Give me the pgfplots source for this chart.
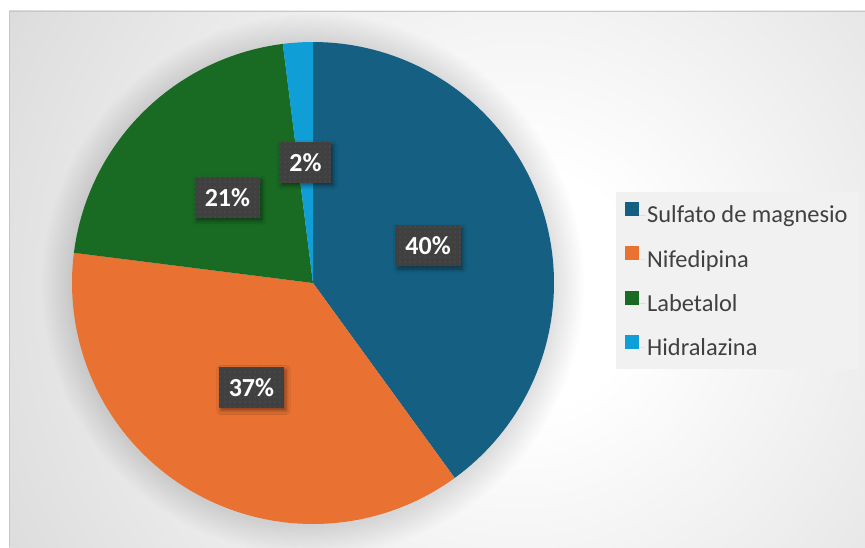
\documentclass[border=0pt]{standalone}
\usepackage{pgfplots}
\pgfplotsset{compat=1.18}
\usepackage{pgfplotstable}
\usepackage{fontspec}
\setmainfont{Carlito}
\usetikzlibrary{shadows.blur,patterns.meta}

\definecolor{cSul}{HTML}{156082}
\definecolor{cNif}{HTML}{E97132}
\definecolor{cLab}{HTML}{196B24}
\definecolor{cHid}{HTML}{0F9ED5}
\definecolor{boxgray}{HTML}{404040}
\definecolor{dotgray}{HTML}{5A5A5A}
\definecolor{txtgray}{HTML}{404040}
\definecolor{legbg}{HTML}{F1F1F1}

\pgfdeclareradialshading{chartbg}{\pgfpoint{0bp}{0bp}}{color(0bp)=(white); color(3bp)=(white); color(14bp)=(black!13); color(17.25bp)=(black!19); color(22bp)=(black!23); color(72bp)=(black!24)}

% porcentaje por medicamento
\pgfplotstableread{
label value
Sulfato 40
Nifedipina 37
Labetalol 21
Hidralazina 2
}\piedata

\begin{document}
\begin{tikzpicture}
\pgfplotstablegetelem{0}{value}\of\piedata\edef\vA{\pgfplotsretval}
\pgfplotstablegetelem{1}{value}\of\piedata\edef\vB{\pgfplotsretval}
\pgfplotstablegetelem{2}{value}\of\piedata\edef\vC{\pgfplotsretval}
\pgfplotstablegetelem{3}{value}\of\piedata\edef\vD{\pgfplotsretval}
\pgfmathsetmacro\aA{0}
\pgfmathsetmacro\aB{\aA+3.6*\vA}
\pgfmathsetmacro\aC{\aB+3.6*\vB}
\pgfmathsetmacro\aD{\aC+3.6*\vC}
\pgfmathsetmacro\aE{\aD+3.6*\vD}
\def\cx{313}\def\cy{283}\def\R{241}\def\rl{121}
\pgfmathsetmacro\lAx{\cx+\rl*sin((\aA+\aB)/2)}\pgfmathsetmacro\lAy{\cy-\rl*cos((\aA+\aB)/2)}
\pgfmathsetmacro\lBx{\cx+\rl*sin((\aB+\aC)/2)}\pgfmathsetmacro\lBy{\cy-\rl*cos((\aB+\aC)/2)}
\pgfmathsetmacro\lCx{\cx+\rl*sin((\aC+\aD)/2)}\pgfmathsetmacro\lCy{\cy-\rl*cos((\aC+\aD)/2)}
\pgfmathsetmacro\lDx{\cx+\rl*sin((\aD+\aE)/2)}\pgfmathsetmacro\lDy{\cy-\rl*cos((\aD+\aE)/2)}
% fondo del grafico
\begin{scope}
\clip (9pt,0pt) rectangle (866pt,536pt);
\shade[shading=chartbg] (-480pt,-743pt) rectangle (1520pt,1257pt);
\end{scope}
\draw[black!22, line width=0.8pt] (9pt,0pt) -- (9pt,536pt) -- (866pt,536pt);
% sombra suave del circulo
\foreach \i in {2,4,...,30} {\fill[black, opacity=0.007] (313pt,262pt) circle (241pt+\i pt);}
\begin{axis}[
    at={(0pt,0pt)}, anchor=south west,
    width=865pt, height=547pt, scale only axis,
    xmin=0, xmax=865, ymin=0, ymax=547,
    y dir=reverse,
    hide axis, clip=false,
    legend image code/.code={\fill[#1] (0pt,-1pt) rectangle (14pt,13pt); \path (0pt,0pt) -- (20pt,0pt);},
    legend style={at={(0.7121,0.649)}, anchor=north west,
        fill=legbg, draw=none,
        font=\fontsize{24.4}{28}\selectfont, text=txtgray,
        row sep=20pt, inner xsep=9pt, inner ysep=10pt},
    legend cell align=left,
]
\addplot[fill=cSul, draw=none, domain=\aA:\aB, samples=90] ({\cx+\R*sin(x)},{\cy-\R*cos(x)}) -- (axis cs:\cx,\cy) -- cycle;
\addlegendentry{Sulfato de magnesio}
\addplot[fill=cNif, draw=none, domain=\aB:\aC, samples=90] ({\cx+\R*sin(x)},{\cy-\R*cos(x)}) -- (axis cs:\cx,\cy) -- cycle;
\addlegendentry{Nifedipina}
\addplot[fill=cLab, draw=none, domain=\aC:\aD, samples=60] ({\cx+\R*sin(x)},{\cy-\R*cos(x)}) -- (axis cs:\cx,\cy) -- cycle;
\addlegendentry{Labetalol}
\addplot[fill=cHid, draw=none, domain=\aD:\aE, samples=10] ({\cx+\R*sin(x)},{\cy-\R*cos(x)}) -- (axis cs:\cx,\cy) -- cycle;
\addlegendentry{Hidralazina}
% etiquetas de porcentaje
\addplot[draw=none, mark=none, forget plot,
    nodes near coords, point meta=explicit symbolic,
    every node near coord/.append style={anchor=center, fill=boxgray, text=white,
        font=\bfseries\fontsize{26}{26}\selectfont, inner xsep=10pt, minimum height=41pt,
        blur shadow={shadow xshift=2pt, shadow yshift=-3pt, shadow blur radius=4pt, shadow opacity=45},
        postaction={pattern={Dots[distance=5pt, radius=0.7pt]}, pattern color=dotgray}},
] coordinates {
    (\lAx,\lAy) [\vA\%]
    (\lBx,\lBy) [\vB\%]
    (\lCx,\lCy) [\vC\%]
    (\lDx,\lDy) [\vD\%]
};
\end{axis}
\pgfresetboundingbox
\useasboundingbox (0pt,0pt) rectangle (865pt,547pt);
\end{tikzpicture}
\end{document}
